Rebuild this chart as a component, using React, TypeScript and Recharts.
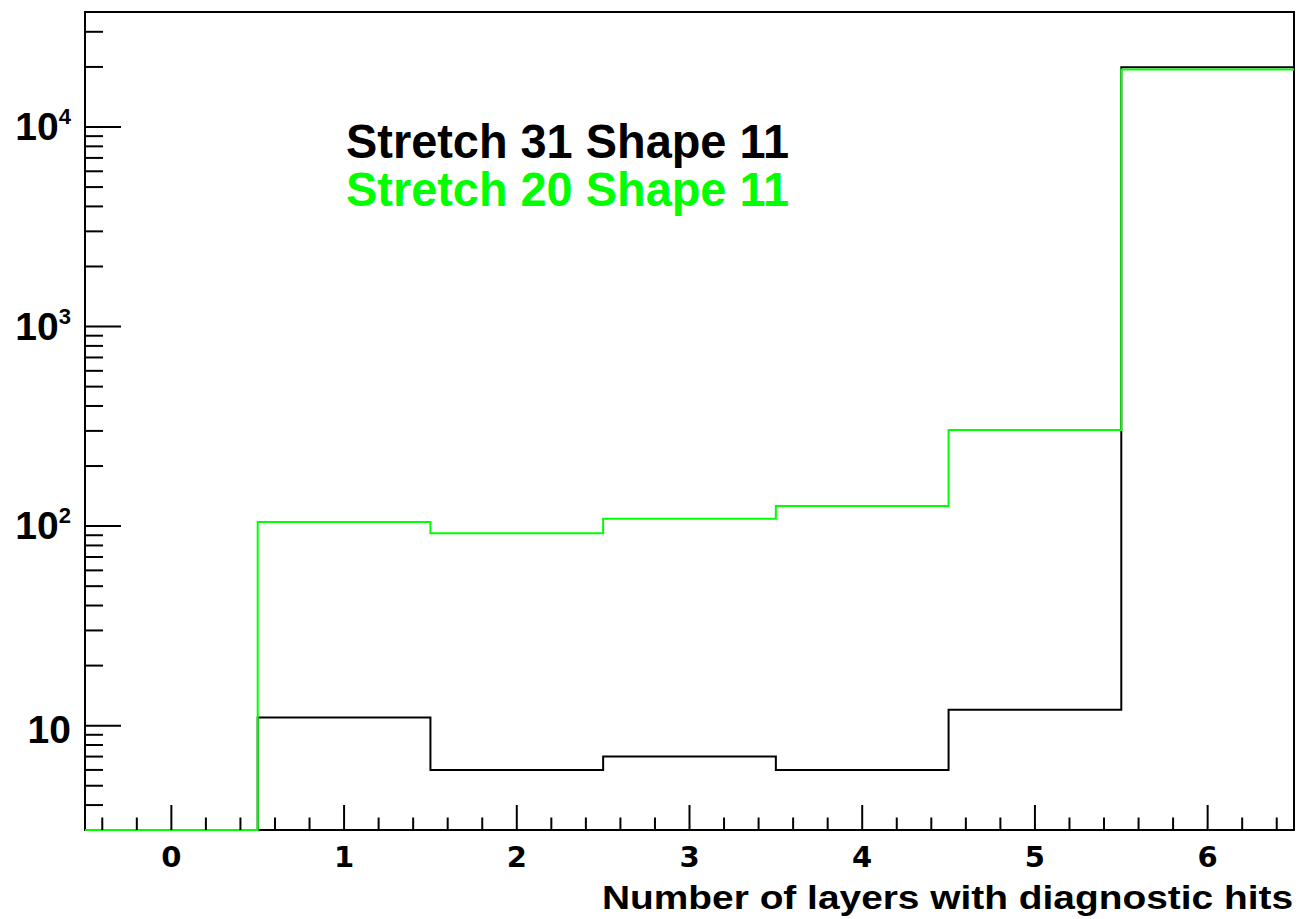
import React from 'react';
import { ComposedChart, Line, XAxis, YAxis, ReferenceArea, Customized } from 'recharts';

// ---- data ----
const binCenters = [0, 1, 2, 3, 4, 5, 6];
const stretch31 = [0, 11, 6, 7, 6, 12, 19900];
const stretch20 = [0, 105, 92, 109, 126, 303, 19400];
const seriesNames = ['Stretch 31 Shape 11', 'Stretch 20 Shape 11'];
const seriesColors = ['#000000', '#00ff00'];
const xMajorTicks = [0, 1, 2, 3, 4, 5, 6];
const yMajorTicks = [10, 100, 1000, 10000];
const xTitle = 'Number of layers with diagnostic hits';

const X_MIN = -0.5;
const X_MAX = 6.5;
const Y_MIN = 3;
const Y_MAX = 37700;

// histogram outline points (bin low edges + last upper edge); empty bins sit on the frame floor
const table = binCenters.map((c, i) => ({
  x: c - 0.5,
  s31: Math.max(stretch31[i], Y_MIN),
  s20: Math.max(stretch20[i], Y_MIN),
}));
table.push({
  x: binCenters[binCenters.length - 1] + 0.5,
  s31: Math.max(stretch31[stretch31.length - 1], Y_MIN),
  s20: Math.max(stretch20[stretch20.length - 1], Y_MIN),
});

// tick lists
const xTicks: number[] = [];
for (let v = X_MIN + 0.1; v < X_MAX; v += 0.2) xTicks.push(Math.round(v * 10) / 10);
const yTicks: number[] = [];
[1, 10, 100, 1000, 10000].forEach((d) => {
  for (let m = 1; m <= 9; m++) {
    const v = d * m;
    if (v > Y_MIN && v < Y_MAX) yTicks.push(v);
  }
});

const FONT = '"Liberation Sans", Arial, Helvetica, sans-serif';
const WIDE_FONT = '"DejaVu Sans", "Liberation Sans", sans-serif';

const XTick = (props: any) => {
  const { x, y, payload } = props;
  const v = payload.value;
  const major = xMajorTicks.some((m) => Math.abs(m - v) < 1e-6);
  return (
    <g>
      <line x1={x} x2={x} y1={y} y2={y - (major ? 25 : 12.5)} stroke="#000" strokeWidth={2} />
      {major && (
        <text x={x} y={y + 37} textAnchor="middle" fontFamily={WIDE_FONT} fontWeight="bold" fontSize={29} fill="#000">
          {String(Math.round(v))}
        </text>
      )}
    </g>
  );
};

const YTick = (props: any) => {
  const { x, y, payload } = props;
  const v = payload.value;
  const major = yMajorTicks.some((m) => Math.abs(m - v) < 1e-6);
  const exp = Math.round(Math.log10(v));
  return (
    <g>
      <line x1={x} x2={x + (major ? 36 : 18)} y1={y} y2={y} stroke="#000" strokeWidth={2} />
      {major &&
        (exp === 1 ? (
          <text x={x - 14} y={y + 17} textAnchor="end" fontFamily={FONT} fontWeight="bold" fontSize={39} fill="#000">
            10
          </text>
        ) : (
          <text x={x - 14} y={y + 13} textAnchor="end" fontFamily={FONT} fontWeight="bold" fontSize={39} fill="#000">
            10
            <tspan dy={-16} fontSize={22}>
              {String(exp)}
            </tspan>
          </text>
        ))}
    </g>
  );
};

const Annotations = () => (
  <g>
    <text x={346} y={158} fontFamily={FONT} fontWeight="bold" fontSize={49} fill={seriesColors[0]} textLength={443} lengthAdjust="spacingAndGlyphs">
      {seriesNames[0]}
    </text>
    <text x={346} y={206} fontFamily={FONT} fontWeight="bold" fontSize={49} fill={seriesColors[1]} textLength={443} lengthAdjust="spacingAndGlyphs">
      {seriesNames[1]}
    </text>
    <text x={602} y={909} fontFamily={FONT} fontWeight="bold" fontSize={33} fill="#000" textLength={691} lengthAdjust="spacingAndGlyphs">
      {xTitle}
    </text>
  </g>
);

export default function App() {
  return (
    <div style={{ position: 'fixed', left: 0, top: 0, width: 1301, height: 919, background: '#fff' }}>
      <ComposedChart width={1301} height={919} data={table} margin={{ top: 12, right: 7, left: 0, bottom: 0 }}>
        <XAxis
          dataKey="x"
          type="number"
          domain={[X_MIN, X_MAX]}
          ticks={xTicks}
          interval={0}
          tickSize={0}
          tickMargin={0}
          tickLine={false}
          tick={<XTick />}
          height={89}
          axisLine={false}
        />
        <YAxis
          scale="log"
          type="number"
          domain={[Y_MIN, Y_MAX]}
          ticks={yTicks}
          interval={0}
          tickSize={0}
          tickMargin={0}
          tickLine={false}
          tick={<YTick />}
          width={85}
          axisLine={false}
        />
        <ReferenceArea
          x1={X_MIN}
          x2={X_MAX}
          y1={Y_MIN}
          y2={Y_MAX}
          fill="none"
          fillOpacity={0}
          stroke="#000"
          strokeWidth={2}
          ifOverflow="visible"
        />
        <Line
          type="stepAfter"
          dataKey="s31"
          stroke={seriesColors[0]}
          strokeWidth={2}
          dot={false}
          activeDot={false}
          isAnimationActive={false}
        />
        <Line
          type="stepAfter"
          dataKey="s20"
          stroke={seriesColors[1]}
          strokeWidth={2}
          dot={false}
          activeDot={false}
          isAnimationActive={false}
        />
        <Customized component={Annotations} />
      </ComposedChart>
    </div>
  );
}
